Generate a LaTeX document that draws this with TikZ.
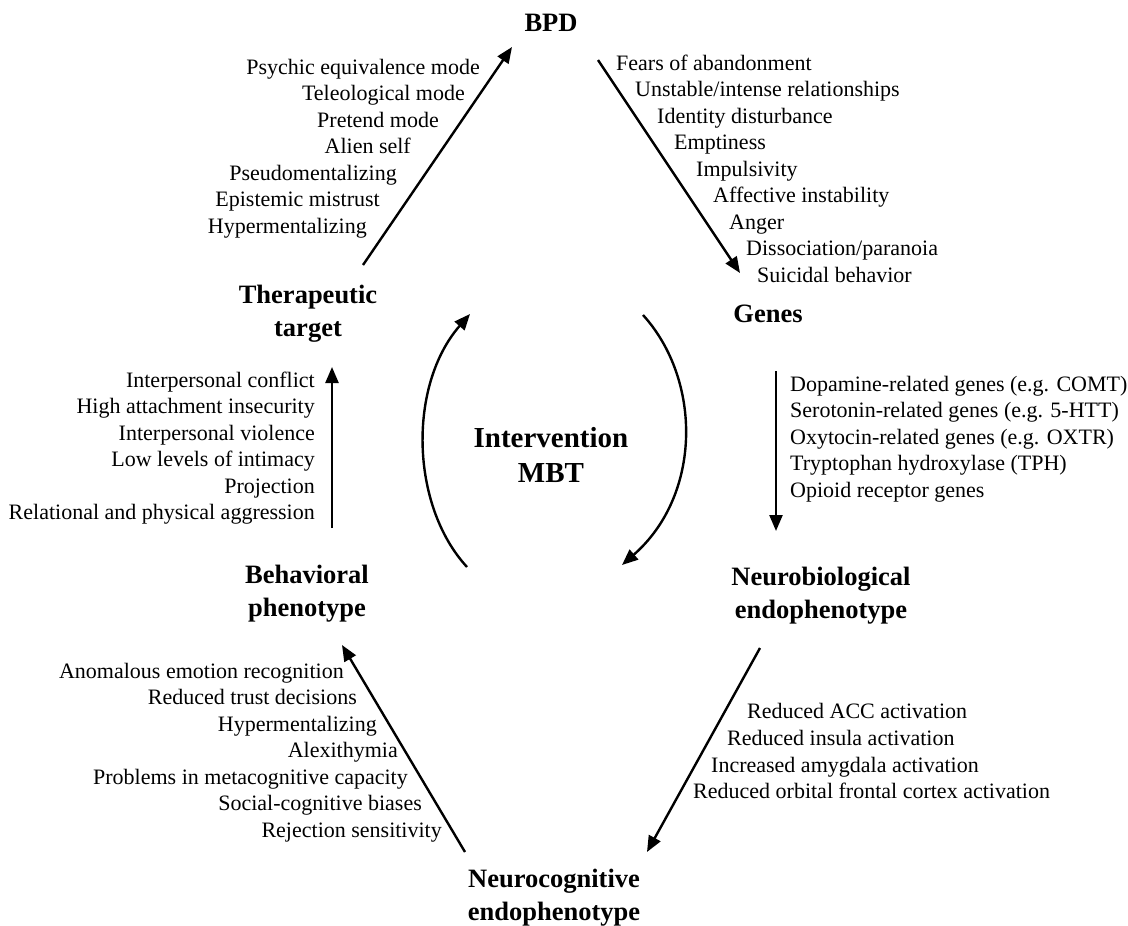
\documentclass[tikz,border=0pt]{standalone}
\usepackage{fontspec}
\setmainfont{Liberation Serif}
\usetikzlibrary{arrows.meta}
\begin{document}
\begin{tikzpicture}[x=1pt,y=-1pt,
  lbl/.style={font=\fontsize{22}{26}\selectfont, inner sep=0pt, text height=15pt, text depth=5pt},
  lw/.style={lbl, anchor=west},
  le/.style={lbl, anchor=east},
  head/.style={font=\fontsize{26.5}{33}\selectfont\bfseries, inner sep=0pt, align=center},
  arr/.style={line width=2.4pt, -{Triangle[length=16pt,width=13pt]}}]
\useasboundingbox[fill=white] (0,0) rectangle (1128,926);

% headings
\node[head] (bpd) at (551,23) {BPD};
\node[head] (genes) at (768,314) {Genes};
\node[head] (neurobio) at (821,596) {Neurobiological\\endophenotype};
\node[head] (neurocog) at (554,898) {Neurocognitive\\endophenotype};
\node[head] (behav) at (307,594) {Behavioral\\phenotype};
\node[head] (thera) at (308,314) {Therapeutic\\target};
\node[head, font=\fontsize{29}{35}\selectfont\bfseries] (interv) at (551,455) {Intervention\\MBT};

% arrow end points
\coordinate (a1s) at (363,265); \coordinate (a1e) at (512,47);
\coordinate (a2s) at (598,60);  \coordinate (a2e) at (740,273);
\coordinate (a3s) at (776,371); \coordinate (a3e) at (776,531);
\coordinate (a4s) at (760,648); \coordinate (a4e) at (647,852);
\coordinate (a5s) at (465,852); \coordinate (a5e) at (342,645);
\coordinate (a6s) at (332,528); \coordinate (a6e) at (332,367);
\coordinate (c1s) at (467,567); \coordinate (c1e) at (470,314);
\coordinate (c2s) at (643,315); \coordinate (c2e) at (622,565);

\draw[arr] (a1s) -- (a1e);
\draw[arr] (a2s) -- (a2e);
\draw[arr] (a3s) -- (a3e);
\draw[arr] (a4s) -- (a4e);
\draw[arr] (a5s) -- (a5e);
\draw[arr] (a6s) -- (a6e);
\draw[arr] (c1s) .. controls (410,505) and (408,385) .. (c1e);
\draw[arr] (c2s) .. controls (702,380) and (702,495) .. (c2e);

% therapeutic target -> BPD
\node[le] (t1) at (480,69) {Psychic equivalence mode};
\node[le] (t2) at (465,95.5) {Teleological mode};
\node[le] (t3) at (439,122) {Pretend mode};
\node[le] (t4) at (411,148.5) {Alien self};
\node[le] (t5) at (397,175) {Pseudomentalizing};
\node[le] (t6) at (380,201.5) {Epistemic mistrust};
\node[le] (t7) at (367,228) {Hypermentalizing};

% BPD -> genes
\node[lw] (b1) at (616,65) {Fears of abandonment};
\node[lw] (b2) at (635,91.5) {Unstable/intense relationships};
\node[lw] (b3) at (657,118) {Identity disturbance};
\node[lw] (b4) at (674,144.5) {Emptiness};
\node[lw] (b5) at (696,171) {Impulsivity};
\node[lw] (b6) at (713,197.5) {Affective instability};
\node[lw] (b7) at (729,224) {Anger};
\node[lw] (b8) at (746,250.5) {Dissociation/paranoia};
\node[lw] (b9) at (757,277) {Suicidal behavior};

% genes -> neurobiological
\node[lw] (g1) at (790,386) {Dopamine-related genes (e.g. COMT)};
\node[lw] (g2) at (790,412.5) {Serotonin-related genes (e.g. 5-HTT)};
\node[lw] (g3) at (790,439) {Oxytocin-related genes (e.g. OXTR)};
\node[lw] (g4) at (790,465.5) {Tryptophan hydroxylase (TPH)};
\node[lw] (g5) at (790,492) {Opioid receptor genes};

% neurobiological -> neurocognitive
\node[lw] (n1) at (747,713) {Reduced ACC activation};
\node[lw] (n2) at (727,740) {Reduced insula activation};
\node[lw] (n3) at (711,767) {Increased amygdala activation};
\node[lw] (n4) at (693,793) {Reduced orbital frontal cortex activation};

% neurocognitive -> behavioral
\node[le] (c1) at (344,673) {Anomalous emotion recognition};
\node[le] (c2) at (357,699.5) {Reduced trust decisions};
\node[le] (c3) at (377,726) {Hypermentalizing};
\node[le] (c4) at (398,752.5) {Alexithymia};
\node[le] (c5) at (408,779) {Problems in metacognitive capacity};
\node[le] (c6) at (422,805.5) {Social-cognitive biases};
\node[le] (c7) at (442,832) {Rejection sensitivity};

% behavioral -> therapeutic target
\node[le] (p1) at (315,382) {Interpersonal conflict};
\node[le] (p2) at (315,408.5) {High attachment insecurity};
\node[le] (p3) at (315,435) {Interpersonal violence};
\node[le] (p4) at (315,461.5) {Low levels of intimacy};
\node[le] (p5) at (315,488) {Projection};
\node[le] (p6) at (315,514.5) {Relational and physical aggression};
\end{tikzpicture}
\end{document}
